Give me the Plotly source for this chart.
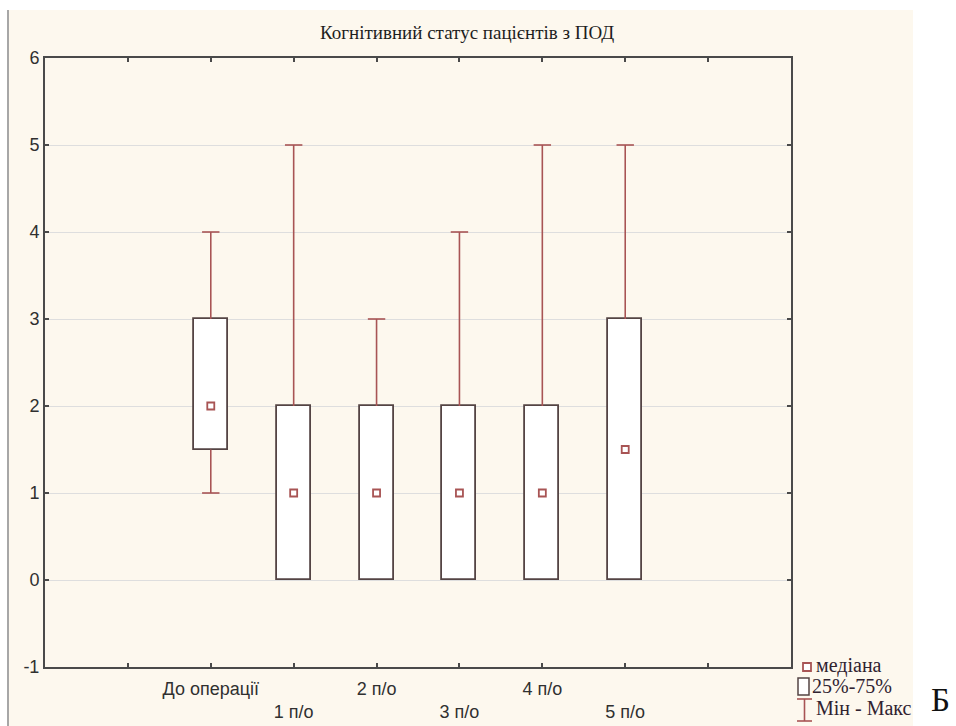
import plotly.graph_objects as go

# Cognitive status scores per observation period
groups = ["До операції", "1 п/о", "2 п/о", "3 п/о", "4 п/о", "5 п/о"]
mins = [1, 0, 0, 0, 0, 0]
q1 = [1.5, 0, 0, 0, 0, 0]
medians = [2, 1, 1, 1, 1, 1.5]
q3 = [3, 2, 2, 2, 2, 3]
maxs = [4, 5, 3, 4, 5, 5]

y_ticks = [-1, 0, 1, 2, 3, 4, 5, 6]
y_tick_text = ["-1", "0", "1", "2", "3", "4", "5", "6"]

WHISKER = "#a85454"
BOX = "#544444"
AXIS = "#4a4a4a"
CREAM = "#fdf8ee"
SERIF = "Liberation Serif"
SANS = "Liberation Sans"

xpos = list(range(1, len(groups) + 1))
box_w = 0.41
cap = 0.105

# labels alternate between two rows
tick_text = [""] + [g if i % 2 == 0 else "<br>" + g for i, g in enumerate(groups)] + [""]
tick_vals = list(range(0, len(groups) + 2))

fig = go.Figure()

# interquartile boxes
fig.add_trace(go.Bar(
    x=xpos,
    y=[b - a for a, b in zip(q1, q3)],
    base=q1,
    width=box_w,
    marker=dict(color="white", line=dict(color=BOX, width=1.8)),
    showlegend=False,
    hoverinfo="skip",
))

# min-max whiskers with caps
wx, wy = [], []
for x, lo, a, b, hi in zip(xpos, mins, q1, q3, maxs):
    wx += [x, x, None, x - cap, x + cap, None]
    wy += [b, hi, None, hi, hi, None]
    if lo < a:
        wx += [x, x, None, x - cap, x + cap, None]
        wy += [a, lo, None, lo, lo, None]
fig.add_trace(go.Scatter(
    x=wx, y=wy, mode="lines",
    line=dict(color=WHISKER, width=1.6),
    showlegend=False, hoverinfo="skip",
))

# medians
fig.add_trace(go.Scatter(
    x=xpos, y=medians, mode="markers",
    marker=dict(symbol="square", size=7, color="white",
                line=dict(color=WHISKER, width=1.8)),
    showlegend=False,
))

L, R, T, B = 45, 165, 58, 59
W, H = 956, 726
pw, ph = W - L - R, H - T - B


def px(xp):
    return (xp - L) / pw


def py(yp):
    return (H - B - yp) / ph


shapes = [
    # cream panel behind the chart
    dict(type="rect", xref="paper", yref="paper", layer="below",
         x0=px(9), x1=px(913), y0=py(726), y1=py(10),
         fillcolor=CREAM, line=dict(width=0)),
    dict(type="line", xref="paper", yref="paper",
         x0=px(8), x1=px(8), y0=py(726), y1=py(10),
         line=dict(color="#8a8a8a", width=1.5)),
    # legend keys
    dict(type="rect", xref="paper", yref="paper",
         x0=px(803), x1=px(811), y0=py(671), y1=py(663),
         fillcolor="white", line=dict(color=WHISKER, width=1.8)),
    dict(type="rect", xref="paper", yref="paper",
         x0=px(798), x1=px(809), y0=py(695), y1=py(678),
         fillcolor="white", line=dict(color=BOX, width=1.5)),
    dict(type="line", xref="paper", yref="paper",
         x0=px(797), x1=px(812), y0=py(699), y1=py(699),
         line=dict(color=WHISKER, width=1.6)),
    dict(type="line", xref="paper", yref="paper",
         x0=px(804.5), x1=px(804.5), y0=py(699), y1=py(721),
         line=dict(color=WHISKER, width=1.6)),
    dict(type="line", xref="paper", yref="paper",
         x0=px(797), x1=px(812), y0=py(721), y1=py(721),
         line=dict(color=WHISKER, width=1.6)),
]

legend_font = dict(family=SERIF, size=20, color="#302230")
annotations = [
    dict(text="Когнітивний статус пацієнтів з ПОД", xref="paper", yref="paper",
         x=px(467), y=py(33), xanchor="center", yanchor="middle", showarrow=False,
         font=dict(family=SERIF, size=19, color="#1e1e1e")),
    dict(text="медіана", xref="paper", yref="paper", x=px(814), y=py(665),
         xanchor="left", yanchor="middle", showarrow=False, font=legend_font),
    dict(text="25%-75%", xref="paper", yref="paper", x=px(810), y=py(686),
         xanchor="left", yanchor="middle", showarrow=False, font=legend_font),
    dict(text="Мін - Макс", xref="paper", yref="paper", x=px(814), y=py(708),
         xanchor="left", yanchor="middle", showarrow=False, font=legend_font),
    dict(text="Б", xref="paper", yref="paper", x=px(940), y=py(700),
         xanchor="center", yanchor="middle", showarrow=False,
         font=dict(family=SERIF, size=33, color="#111111")),
]

fig.update_layout(
    width=W, height=H,
    margin=dict(l=L, r=R, t=T, b=B, autoexpand=False),
    paper_bgcolor="white",
    plot_bgcolor="white",
    shapes=shapes,
    annotations=annotations,
    showlegend=False,
    bargap=0,
    xaxis=dict(
        range=[-1, len(groups) + 2], automargin=False,
        tickmode="array", tickvals=tick_vals, ticktext=tick_text,
        ticks="inside", ticklen=4, tickcolor=AXIS, tickwidth=1.5,
        showline=True, linecolor=AXIS, linewidth=2, mirror="ticks",
        showgrid=False, zeroline=False, ticklabelstandoff=4,
        tickfont=dict(family=SANS, size=18, color="#303030"),
        fixedrange=True,
    ),
    yaxis=dict(
        range=[-1, 6], automargin=False,
        tickmode="array", tickvals=y_ticks, ticktext=y_tick_text,
        ticks="inside", ticklen=4, tickcolor=AXIS, tickwidth=1.5,
        showline=True, linecolor=AXIS, linewidth=2, mirror="ticks",
        showgrid=True, gridcolor="#dedede", gridwidth=1.2, zeroline=False,
        tickfont=dict(family=SANS, size=18, color="#303030"),
        fixedrange=True,
    ),
)

fig.write_html("out.html")
